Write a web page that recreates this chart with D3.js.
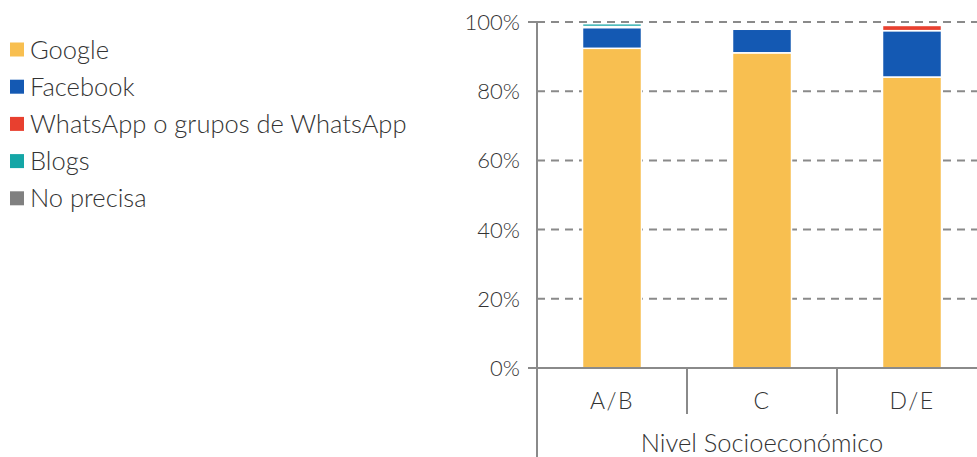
<!DOCTYPE html>
<html>
<head>
<meta charset="utf-8">
<script src="https://cdn.jsdelivr.net/npm/d3@7/dist/d3.min.js"></script>
<style>
  body { margin: 0; background: #fff; }
  text { font-family: Lato, "Open Sans", sans-serif; font-weight: 300; fill: #333; }
</style>
</head>
<body>
<div class="chart-wrapper"></div>
<script>
//====================DATA===================

const categories = ['A/B', 'C', 'D/E']
const seriesNames = ['Google', 'Facebook', 'WhatsApp o grupos de WhatsApp', 'Blogs', 'No precisa']
const seriesColors = ['#f8bf50', '#1459b3', '#e8402f', '#14a6a6', '#808080']

const google = [92.4, 91.1, 84.1]
const facebook = [6.0, 6.8, 13.4]
const whatsapp = [0.3, 0, 1.5]
const blogs = [0.8, 0, 0]
const noPrecisa = [0, 0, 0]

const yTicks = [0, 20, 40, 60, 80, 100]
const axisTitle = 'Nivel Socioeconómico'

//====================STRUCTURE===================

const width = 977
const height = 457
const margin = {top: 22, right: 0, bottom: 89, left: 537}

const rows = categories.map((c, i) => ({
	cat: c,
	'Google': google[i],
	'Facebook': facebook[i],
	'WhatsApp o grupos de WhatsApp': whatsapp[i],
	'Blogs': blogs[i],
	'No precisa': noPrecisa[i]
}))

const stacked = d3.stack().keys(seriesNames)(rows)

const x = d3.scaleBand()
.domain(categories)
.range([margin.left, margin.left + 450])
.paddingInner(0)
.paddingOuter(0)

const y = d3.scaleLinear()
.domain([0, 100])
.range([height - margin.bottom, margin.top])

const color = d3.scaleOrdinal().domain(seriesNames).range(seriesColors)

const svg = d3.select('.chart-wrapper')
.append('svg')
.attr('width', width)
.attr('height', height)

//================GRID & AXES======================================

svg.append('g')
.selectAll('line')
.data(yTicks.filter(d => d > 0))
.enter()
.append('line')
.attr('x1', margin.left)
.attr('x2', width)
.attr('y1', d => y(d))
.attr('y2', d => y(d))
.attr('stroke', '#8a8a8a')
.attr('stroke-width', 2)
.attr('stroke-dasharray', '8,6')

// tick labels
svg.append('g')
.selectAll('text')
.data(yTicks)
.enter()
.append('text')
.attr('x', margin.left - 17)
.attr('y', d => y(d))
.attr('dy', '0.36em')
.attr('text-anchor', 'end')
.attr('font-size', 22)
.text(d => d + '%')

// small tick marks at 0 and 100
svg.append('g')
.selectAll('line')
.data([0, 100])
.enter()
.append('line')
.attr('x1', margin.left - 9)
.attr('x2', margin.left)
.attr('y1', d => y(d))
.attr('y2', d => y(d))
.attr('stroke', '#8a8a8a')
.attr('stroke-width', 2)

//================BARS======================================

const barW = 59

svg.append('g')
.selectAll('g')
.data(stacked)
.enter()
.append('g')
.attr('fill', d => color(d.key))
.selectAll('rect')
.data(d => d)
.enter()
.append('rect')
.attr('x', d => x(d.data.cat) + x.bandwidth() / 2 - barW / 2)
.attr('width', barW)
.attr('y', d => y(d[1]))
.attr('height', d => Math.max(0, y(d[0]) - y(d[1])))
.attr('stroke', '#fff')
.attr('stroke-width', d => (d[1] - d[0]) > 0 ? 1.5 : 0)

// baseline, y axis, category separators
svg.append('line')
.attr('x1', margin.left - 9)
.attr('x2', width)
.attr('y1', y(0))
.attr('y2', y(0))
.attr('stroke', '#8a8a8a')
.attr('stroke-width', 2)

svg.append('line')
.attr('x1', margin.left)
.attr('x2', margin.left)
.attr('y1', y(100))
.attr('y2', height)
.attr('stroke', '#8a8a8a')
.attr('stroke-width', 2)

svg.append('g')
.selectAll('line')
.data(categories.slice(1))
.enter()
.append('line')
.attr('x1', d => x(d))
.attr('x2', d => x(d))
.attr('y1', y(0))
.attr('y2', y(0) + 46)
.attr('stroke', '#8a8a8a')
.attr('stroke-width', 2)

svg.append('g')
.selectAll('text')
.data(categories)
.enter()
.append('text')
.attr('x', d => x(d) + x.bandwidth() / 2)
.attr('y', y(0) + 41)
.attr('text-anchor', 'middle')
.attr('font-size', 23)
.attr('letter-spacing', 1.5)
.text(d => d)

svg.append('text')
.attr('x', x('C') + x.bandwidth() / 2)
.attr('y', height - 5)
.attr('text-anchor', 'middle')
.attr('font-size', 25.5)
.text(axisTitle)

//================LEGEND======================================

const legend = svg.append('g')
.selectAll('g')
.data(seriesNames)
.enter()
.append('g')
.attr('transform', (d, i) => `translate(10, ${49.5 + i * 37.2})`)

legend.append('rect')
.attr('x', 0)
.attr('y', -7)
.attr('width', 14)
.attr('height', 14)
.attr('fill', d => color(d))

legend.append('text')
.attr('x', 20)
.attr('y', 0)
.attr('dy', '0.36em')
.attr('font-size', 25.5)
.text(d => d)
</script>
</body>
</html>
